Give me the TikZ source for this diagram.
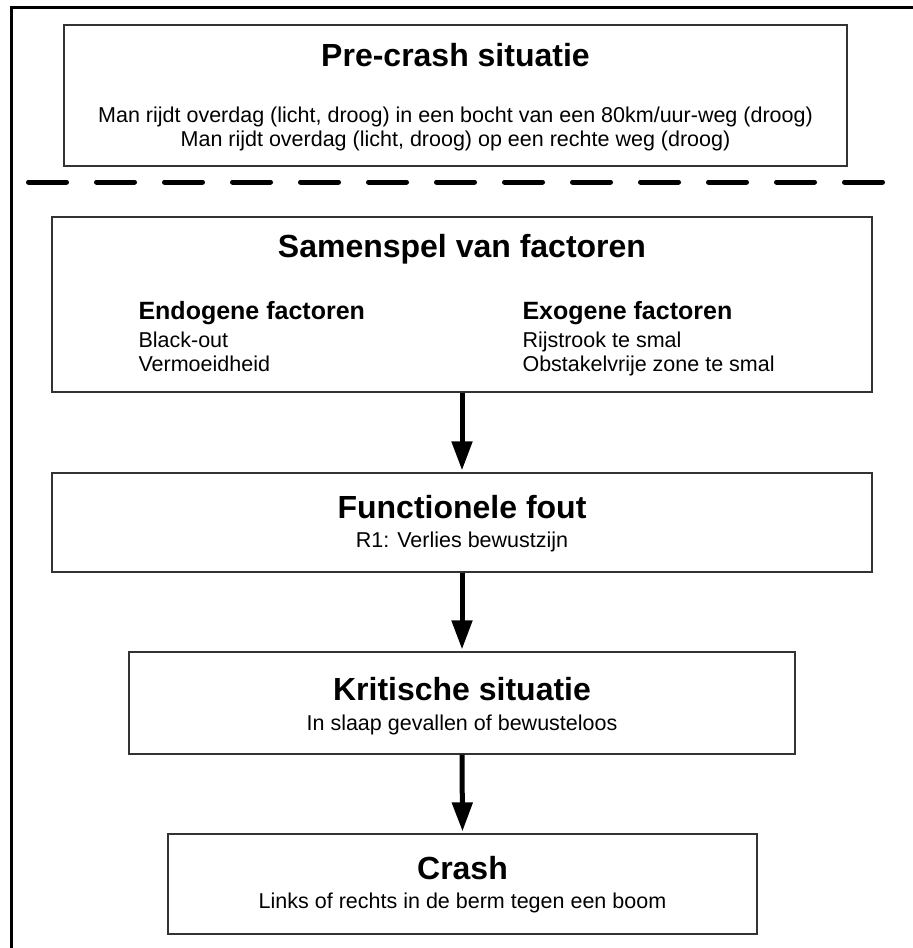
\documentclass[tikz,border=0pt]{standalone}
\usepackage{fontspec}
\setmainfont{Liberation Sans}
\usetikzlibrary{arrows.meta}

\begin{document}
\begin{tikzpicture}[x=1pt,y=-1pt,
  box/.style={draw=black!80,line width=1.3pt,rectangle,inner sep=0pt},
  ttl/.style={anchor=base,font=\fontsize{32}{38}\selectfont\bfseries},
  kop/.style={anchor=base west,font=\fontsize{25}{30}\selectfont\bfseries},
  txt/.style={anchor=base,font=\fontsize{21.5}{26}\selectfont},
  lijst/.style={anchor=base west,font=\fontsize{21.5}{26}\selectfont},
  pijl/.style={line width=5pt,shorten >=2pt,-{Triangle[length=29pt,width=20pt]}}]
  \useasboundingbox (0,0) rectangle (913,948);
  % frame: only top and left edge
  \draw[line width=3pt] (11,948) -- (11,7) -- (913,7);

  % pre-crash
  \node[box,minimum width=783pt,minimum height=141pt] (precrash) at (455.5,95.5) {};
  \node[ttl] (precrashT) at (455.5,66) {Pre-crash situatie};
  \node[txt] (precrashA) at (455.5,122) {Man rijdt overdag (licht, droog) in een bocht van een 80km/uur-weg (droog)};
  \node[txt] (precrashB) at (455.5,146) {Man rijdt overdag (licht, droog) op een rechte weg (droog)};

  \draw[line width=5pt,line cap=round,dash pattern=on 38pt off 30pt] (28.5,182) -- (882.5,182);

  % samenspel
  \node[box,minimum width=820pt,minimum height=175pt] (samenspel) at (462,304.5) {};
  \node[ttl] (samenspelT) at (462,257) {Samenspel van factoren};
  \node[kop] (endo) at (135,319) {Endogene factoren};
  \node[lijst] (endoA) at (135,347) {Black-out};
  \node[lijst] (endoB) at (135,371) {Vermoeidheid};
  \node[kop] (exo) at (519,319) {Exogene factoren};
  \node[lijst] (exoA) at (519,347) {Rijstrook te smal};
  \node[lijst] (exoB) at (519,371) {Obstakelvrije zone te smal};

  % functionele fout
  \node[box,minimum width=820pt,minimum height=99pt] (functioneel) at (462,522.5) {};
  \node[ttl] (functioneelT) at (462,518) {Functionele fout};
  \node[txt] (functioneelA) at (462,547) {R1: Verlies bewustzijn};

  % kritische situatie
  \node[box,minimum width=666pt,minimum height=102pt] (kritisch) at (462,703) {};
  \node[ttl] (kritischT) at (462,700) {Kritische situatie};
  \node[txt] (kritischA) at (462,730) {In slaap gevallen of bewusteloos};

  % crash
  \node[box,minimum width=589pt,minimum height=100pt] (crash) at (462.5,884) {};
  \node[ttl] (crashT) at (462.5,879) {Crash};
  \node[txt] (crashA) at (462.5,908) {Links of rechts in de berm tegen een boom};

  \draw[pijl] (samenspel.south) -- (functioneel.north);
  \draw[pijl] (functioneel.south) -- (kritisch.north);
  \draw[pijl] (kritisch.south) -- (crash.north);
\end{tikzpicture}
\end{document}
